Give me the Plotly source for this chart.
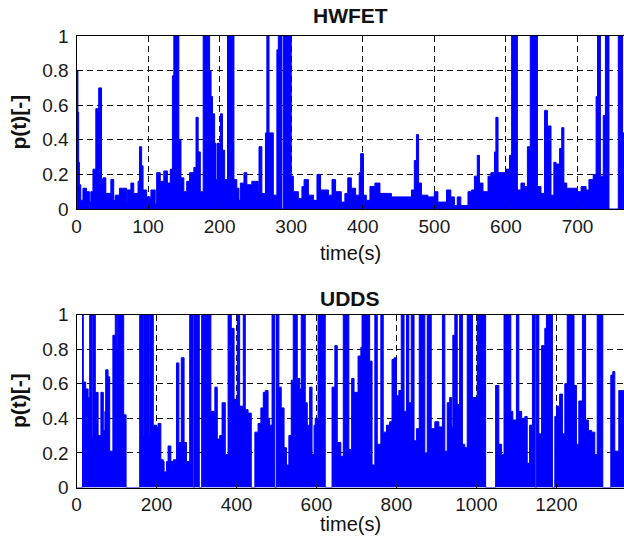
import plotly.graph_objects as go

# HWFET power-split profile: step breakpoints (time in s, level held until next time)
hw_t = [0, 2, 3, 4, 6, 9, 14, 18, 20, 23, 27, 31, 35, 37, 41, 48, 52, 54, 60, 70,
        71, 76, 80, 86, 88, 91, 93, 98, 104, 110, 112, 117, 122, 127, 131, 134, 136, 143, 146, 150,
        154, 158, 164, 167, 170, 173, 177, 186, 188, 190, 193, 195, 197, 201, 204, 207, 211, 220, 224, 227,
        229, 234, 238, 245, 250, 254, 255, 259, 264, 266, 269, 275, 280, 282, 287, 289, 300, 303, 310, 315,
        318, 324, 331, 336, 341, 352, 357, 362, 370, 375, 379, 384, 390, 395, 397, 401, 405, 410, 417, 424,
        440, 468, 472, 475, 478, 482, 491, 500, 505, 517, 523, 528, 532, 537, 547, 552, 556, 560, 563, 568,
        575, 579, 584, 586, 589, 600, 605, 608, 616, 621, 626, 630, 634, 644, 649, 654, 658, 663, 667, 670,
        675, 678, 681, 685, 700, 705, 712, 716, 722, 726, 728, 732, 736, 739, 744, 757, 763, 765]
hw_p = [0.80, 0.56, 0.27, 0.14, 0.05, 0.12, 0.10, 0.04, 0.10, 0.23, 0.58, 0.70, 0.17, 0.18, 0.09, 0.17, 0.05, 0.08, 0.12, 0.04,
        0.11, 0.15, 0.09, 0.16, 0.36, 0.25, 0.11, 0.07, 0.11, 0.03, 0.21, 0.16, 0.22, 0.15, 0.23, 0.77, 1.00, 0.40, 0.18, 0.10,
        0.16, 0.21, 0.24, 0.53, 0.33, 0.10, 1.00, 0.80, 0.65, 0.55, 0.38, 0.17, 0.38, 0.55, 0.34, 0.17, 1.00, 0.17, 0.12, 0.05,
        0.15, 0.21, 0.14, 0.16, 0.16, 0.10, 0.36, 0.09, 0.44, 1.00, 0.44, 0.08, 0.92, 1.00, 0.00, 1.00, 0.19, 0.10, 0.06, 0.13,
        0.17, 0.08, 0.05, 0.20, 0.11, 0.08, 0.17, 0.10, 0.04, 0.09, 0.18, 0.12, 0.08, 0.21, 0.32, 0.08, 0.05, 0.13, 0.15, 0.09,
        0.07, 0.11, 0.28, 0.43, 0.15, 0.08, 0.07, 0.10, 0.04, 0.11, 0.07, 0.02, 0.07, 0.02, 0.10, 0.11, 0.19, 0.31, 0.15, 0.10,
        0.19, 0.21, 0.33, 0.53, 0.21, 0.23, 0.31, 1.00, 0.11, 0.15, 0.13, 0.36, 1.00, 0.13, 0.09, 0.57, 0.48, 0.08, 0.27, 0.26,
        0.35, 0.47, 0.15, 0.12, 0.10, 0.13, 0.11, 0.17, 0.20, 0.65, 1.00, 0.19, 0.54, 1.00, 0.00, 1.00, 0.44, 0.44]

# UDDS power-split profile
ud_t = [0, 15, 17, 23, 29, 33, 39, 41, 47, 54, 61, 67, 71, 73, 79, 83, 91, 97, 101, 103,
        118, 124, 158, 165, 167, 180, 182, 192, 200, 204, 211, 217, 219, 225, 229, 236, 242, 250, 256, 262,
        269, 275, 283, 292, 295, 307, 313, 336, 346, 352, 358, 364, 372, 379, 387, 394, 402, 408, 417, 422,
        429, 437, 446, 454, 461, 467, 472, 479, 483, 489, 496, 500, 506, 512, 519, 525, 531, 537, 542, 552,
        558, 562, 572, 577, 583, 589, 594, 597, 604, 622, 639, 646, 652, 661, 667, 681, 688, 694, 704, 711,
        714, 733, 739, 746, 752, 761, 767, 775, 783, 789, 794, 800, 806, 812, 819, 825, 831, 837, 844, 850,
        857, 871, 877, 887, 896, 906, 915, 921, 927, 933, 938, 941, 946, 952, 958, 965, 971, 977, 990, 1002,
        1023, 1048, 1056, 1063, 1069, 1086, 1091, 1100, 1106, 1113, 1121, 1127, 1133, 1140, 1147, 1150, 1156, 1163, 1171, 1175,
        1190, 1196, 1200, 1208, 1215, 1221, 1227, 1244, 1250, 1256, 1265, 1273, 1280, 1288, 1296, 1302, 1316, 1336, 1341, 1346,
        1356, 1369]
ud_p = [0.00, 1.00, 0.61, 0.57, 0.52, 1.00, 0.29, 1.00, 0.55, 0.30, 0.55, 0.33, 0.44, 0.68, 0.64, 0.21, 0.88, 1.00, 0.80, 1.00,
        0.42, 0.00, 1.00, 0.30, 1.00, 0.30, 1.00, 0.36, 0.35, 0.37, 0.16, 0.15, 0.09, 0.15, 0.24, 0.15, 0.16, 0.72, 0.26, 0.75,
        0.26, 0.15, 1.00, 0.00, 1.00, 0.00, 1.00, 0.44, 0.58, 0.28, 0.30, 0.49, 0.19, 1.00, 0.92, 0.51, 1.00, 0.47, 1.00, 0.45,
        0.43, 0.00, 0.32, 0.37, 0.46, 0.55, 0.56, 0.40, 0.36, 1.00, 0.00, 1.00, 0.58, 0.46, 0.23, 0.13, 0.30, 0.62, 1.00, 0.63,
        0.57, 1.00, 0.49, 0.36, 0.58, 0.19, 0.36, 0.40, 1.00, 0.00, 0.58, 0.82, 0.26, 0.18, 1.00, 0.22, 0.63, 0.55, 0.76, 0.81,
        1.00, 0.73, 0.13, 1.00, 0.25, 1.00, 0.32, 0.36, 0.38, 0.74, 0.75, 0.53, 0.56, 1.00, 0.44, 1.00, 0.49, 1.00, 0.27, 0.34,
        1.00, 0.20, 1.00, 0.34, 0.38, 0.35, 1.00, 0.21, 0.49, 0.52, 0.35, 0.88, 1.00, 0.48, 1.00, 0.25, 0.23, 1.00, 0.52, 1.00,
        0.00, 0.59, 0.25, 0.19, 1.00, 0.44, 0.39, 1.00, 0.44, 0.40, 0.41, 0.14, 0.36, 1.00, 0.00, 1.00, 0.31, 0.82, 0.92, 1.00,
        0.00, 0.41, 0.47, 0.54, 0.31, 0.60, 1.00, 0.59, 0.25, 0.50, 1.00, 0.39, 0.33, 0.32, 0.19, 1.00, 0.00, 0.65, 0.67, 0.21,
        0.56, 0.56]

x_ticks_hw = [0, 100, 200, 300, 400, 500, 600, 700]
x_ticks_ud = [0, 200, 400, 600, 800, 1000, 1200]
y_ticks = [0, 0.2, 0.4, 0.6, 0.8, 1]
y_tick_text = ["0", "0.2", "0.4", "0.6", "0.8", "1"]

W, H = 624, 543
FONT = "Liberation Sans, Arial, sans-serif"
BLUE = "#0000ff"

fig = go.Figure()
fig.add_trace(go.Scatter(x=hw_t, y=hw_p, mode="lines", line=dict(color=BLUE, width=1, shape="hv"),
                         fill="tozeroy", fillcolor=BLUE, xaxis="x", yaxis="y", showlegend=False))
fig.add_trace(go.Scatter(x=ud_t, y=ud_p, mode="lines", line=dict(color=BLUE, width=1, shape="hv"),
                         fill="tozeroy", fillcolor=BLUE, xaxis="x2", yaxis="y2", showlegend=False))

x0 = 76.5 / W
axis_common = dict(showline=True, mirror=True, linecolor="black", linewidth=1,
                   showgrid=True, gridcolor="#111111", gridwidth=1.1, griddash="6px,4px",
                   ticks="inside", ticklen=4, tickcolor="black", zeroline=False, automargin=False,
                   tickfont=dict(family=FONT, size=19, color="#1a1a1a"))
y_extra = dict(ticklabelstandoff=3)

fig.update_layout(
    template="none",
    width=W, height=H, margin=dict(l=0, r=0, t=0, b=0, pad=0, autoexpand=False),
    paper_bgcolor="white", plot_bgcolor="white",
    xaxis=dict(domain=[x0, 1], range=[0, 765], tickvals=x_ticks_hw, anchor="y", **axis_common),
    yaxis=dict(domain=[1 - 209 / H, 1 - 36 / H], range=[0, 1], tickvals=y_ticks, ticktext=y_tick_text,
               anchor="x", **axis_common, **y_extra),
    xaxis2=dict(domain=[x0, 1], range=[0, 1369], tickvals=x_ticks_ud, anchor="y2", **axis_common),
    yaxis2=dict(domain=[1 - 487.5 / H, 1 - 314.5 / H], range=[0, 1], tickvals=y_ticks, ticktext=y_tick_text,
                anchor="x2", **axis_common, **y_extra),
)

xc = (76.5 + W) / 2 / W
labels = [
    dict(text="<b>HWFET</b>", x=xc, y=1 - 15 / H, size=21),
    dict(text="time(s)", x=xc, y=1 - 253 / H, size=20),
    dict(text="<b>UDDS</b>", x=xc, y=1 - 298 / H, size=21),
    dict(text="time(s)", x=xc, y=1 - 524 / H, size=20),
]
for lb in labels:
    fig.add_annotation(text=lb["text"], x=lb["x"], y=lb["y"], xref="paper", yref="paper",
                       xanchor="center", yanchor="middle", showarrow=False,
                       font=dict(family=FONT, size=lb["size"], color="#111111"))
for yc in [1 - 122.5 / H, 1 - 401 / H]:
    fig.add_annotation(text="<b>p(t)[-]</b>", x=18 / W, y=yc, xref="paper", yref="paper",
                       xanchor="center", yanchor="middle", textangle=-90, showarrow=False,
                       font=dict(family=FONT, size=21, color="#111111"))

fig.write_html("out.html")
